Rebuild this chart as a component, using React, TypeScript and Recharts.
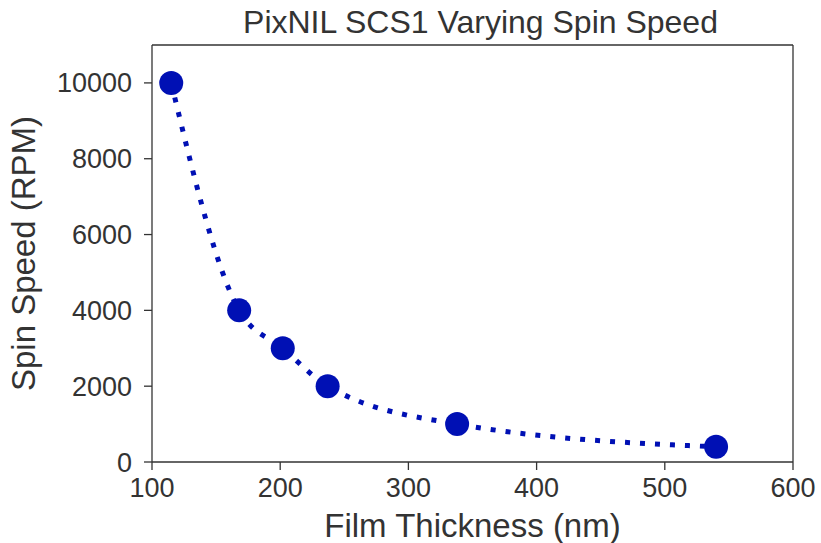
import { LineChart, Line, XAxis, YAxis, ReferenceLine } from "recharts";

// Film thickness (nm) vs spin speed (RPM)
const thicknessNm = [115, 168, 202, 237, 338, 540];
const spinSpeedRpm = [10000, 4000, 3000, 2000, 1000, 400];
const xTicks = [100, 200, 300, 400, 500, 600];
const yTicks = [0, 2000, 4000, 6000, 8000, 10000];

const data = thicknessNm.map((t, i) => ({ t, rpm: spinSpeedRpm[i] }));

const FONT = "'Liberation Sans', Arial, sans-serif";
const INK = "#333333";
const BLUE = "#0010b4";

export default function App() {
  return (
    <div style={{ position: "absolute", left: 0, top: 0, width: 821, height: 543, background: "#fff", fontFamily: FONT }}>
      <div
        style={{
          position: "absolute",
          left: 160,
          width: 641,
          top: 6,
          lineHeight: "32px",
          textAlign: "center",
          fontSize: 32,
          color: INK,
          whiteSpace: "nowrap",
        }}
      >
        PixNIL SCS1 Varying Spin Speed
      </div>
      <LineChart
        width={821}
        height={543}
        data={data}
        margin={{ top: 45, right: 28, bottom: 21, left: 32 }}
      >
        <XAxis
          dataKey="t"
          type="number"
          domain={[100, 600]}
          ticks={xTicks}
          height={60}
          stroke={INK}
          strokeWidth={1.3}
          tickSize={8}
          tickMargin={8}
          tick={{ fill: INK, fontSize: 27, fontFamily: FONT }}
          label={{ value: "Film Thickness (nm)", position: "insideBottom", offset: -15, fill: INK, fontSize: 33, fontFamily: FONT }}
        />
        <YAxis
          type="number"
          domain={[0, 11000]}
          ticks={yTicks}
          width={120}
          stroke={INK}
          strokeWidth={1.3}
          tickSize={8}
          tickMargin={12}
          tick={{ fill: INK, fontSize: 27, fontFamily: FONT }}
          label={{
            value: "Spin Speed (RPM)",
            angle: -90,
            position: "insideLeft",
            offset: -9,
            fill: INK,
            fontSize: 33,
            fontFamily: FONT,
            style: { textAnchor: "middle" },
          }}
        />
        <ReferenceLine y={11000} stroke={INK} strokeWidth={1.3} ifOverflow="extendDomain" />
        <ReferenceLine x={600} stroke={INK} strokeWidth={1.3} />
        <Line
          dataKey="rpm"
          type="monotone"
          stroke={BLUE}
          strokeWidth={5}
          strokeDasharray="5 10"
          dot={{ r: 12, fill: BLUE, stroke: BLUE, strokeWidth: 0 }}
          isAnimationActive={false}
        />
      </LineChart>
    </div>
  );
}
